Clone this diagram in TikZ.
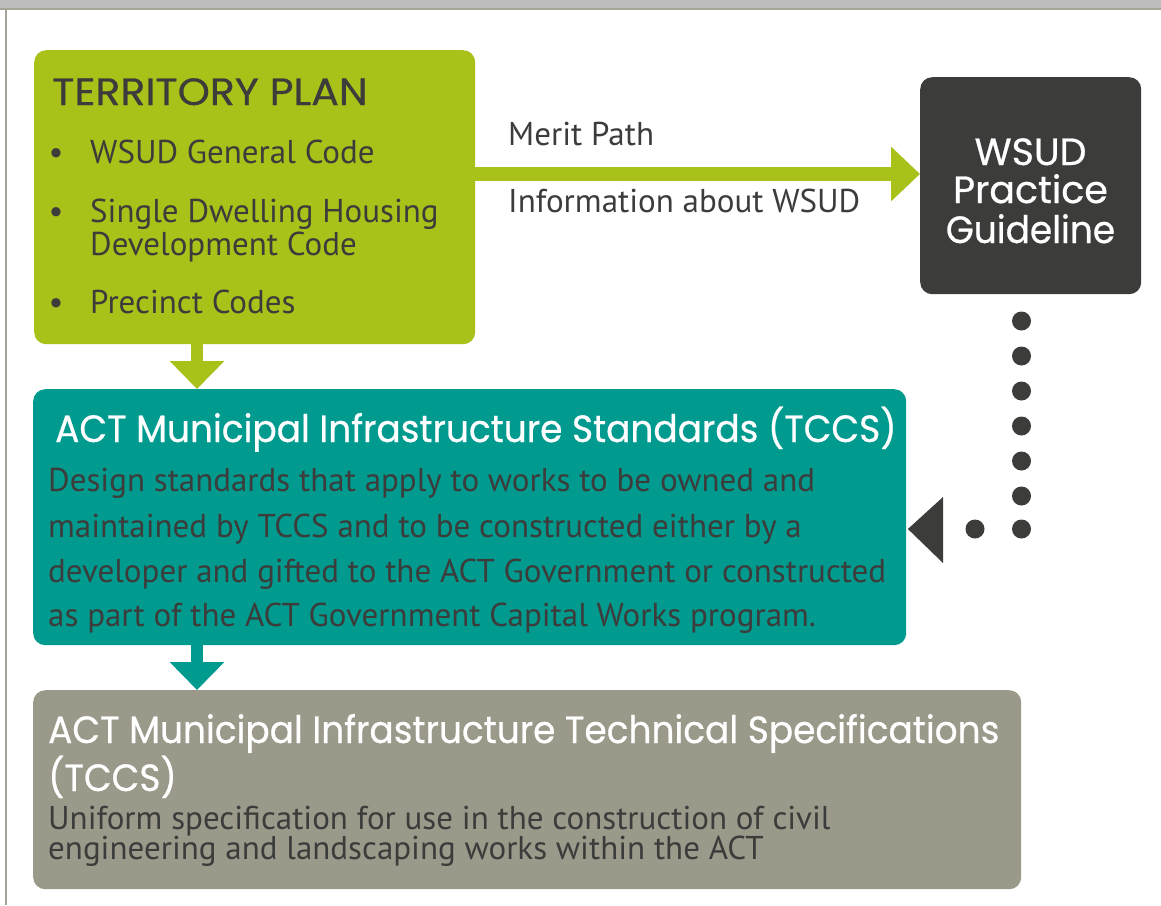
\documentclass[tikz,border=0pt]{standalone}
\usepackage{fontspec}
\setmainfont{PT Sans}
\newfontfamily\headfont[FakeStretch=0.945,FakeBold=0.6]{Poppins}
\newfontfamily\capfont[FakeStretch=1.08,FakeBold=0.6]{Poppins}
\newfontfamily\plainhead[FakeBold=0.6]{Poppins}
\usetikzlibrary{arrows.meta}
\definecolor{tpgreen}{HTML}{A9C119}
\definecolor{tealc}{HTML}{009A8F}
\definecolor{graybox}{HTML}{9B998A}
\definecolor{darkbox}{HTML}{3C3C3B}
\definecolor{darktext}{HTML}{3C3C3B}
\definecolor{topbar}{HTML}{BDBDBD}
\definecolor{borderc}{HTML}{A6A497}
\tikzset{
  box/.style={rounded corners=12pt, inner sep=0pt, draw=none, anchor=north west},
  head/.style={font=\headfont\fontsize{38}{40}\selectfont, inner sep=0pt, anchor=base west},
  body/.style={font=\fontsize{33}{36}\selectfont, text=darktext, inner sep=0pt, anchor=base west},
  garrow/.style={line width=14pt, tpgreen, -{Triangle[width=53pt,length=29pt]}},
  downarrow/.style={line width=12pt, -{Triangle[width=53pt,length=28pt]}},
}
\begin{document}
\begin{tikzpicture}[x=1pt,y=-1pt]
\useasboundingbox (0,0) rectangle (1161,905);
\fill[white] (0,0) rectangle (1161,905);
\fill[topbar] (0,0) rectangle (1161,8);
\fill[borderc] (0,8) rectangle (1161,10);
\fill[borderc] (5,8) rectangle (7,905);

% boxes
\node[box, fill=tpgreen, minimum width=441pt, minimum height=294pt] (tp) at (34,50) {};
\node[box, fill=darkbox, minimum width=221pt, minimum height=217pt] (wsud) at (920,77) {};
\node[box, fill=tealc, minimum width=873pt, minimum height=256pt] (mis) at (33,389) {};
\node[box, fill=graybox, minimum width=988pt, minimum height=199pt] (mits) at (33,690) {};

% territory plan text
\node[head, font=\capfont\fontsize{38}{40}\selectfont, text=darktext] (tpt) at (52,105) {TERRITORY PLAN};
\node[body, anchor=base] (b1) at (56,163) {•};
\node[body] (l1) at (90,163) {WSUD General Code};
\node[body, anchor=base] (b2) at (56,222) {•};
\node[body] (l2) at (90,222) {Single Dwelling Housing};
\node[body] (l3) at (90,255) {Development Code};
\node[body, anchor=base] (b3) at (56,313) {•};
\node[body] (l4) at (90,313) {Precinct Codes};

% WSUD box text
\node[head, font=\plainhead\fontsize{38}{40}\selectfont, text=white, anchor=base] (w1) at (1030.5,165) {WSUD};
\node[head, font=\plainhead\fontsize{38}{40}\selectfont, text=white, anchor=base] (w2) at (1030.5,203) {Practice};
\node[head, text=white, anchor=base] (w3) at (1030.5,243) {Guideline};

% arrow labels
\node[body] (merit) at (508,145) {Merit Path};
\node[body] (info) at (508,212) {Information about WSUD};

% standards
\node[head, text=white] (mist) at (55,442) {ACT Municipal Infrastructure Standards (TCCS)};
\node[body] (m1) at (48,491) {Design standards that apply to works to be owned and};
\node[body] (m2) at (48,537) {maintained by TCCS and to be constructed either by a};
\node[body] (m3) at (48,582) {developer and gifted to the ACT Government or constructed};
\node[body] (m4) at (48,626) {as part of the ACT Government Capital Works program.};

% specifications
\node[head, text=white] (mitst) at (48,743) {ACT Municipal Infrastructure Technical Specifications};
\node[head, text=white] (mitst2) at (48,791) {(TCCS)};
\node[body] (s1) at (48,829) {Uniform specification for use in the construction of civil};
\node[body] (s2) at (48,859) {engineering and landscaping works within the ACT};

% connectors
\coordinate (mid) at (700,174);
\draw[garrow] (tp.east |- mid) -- (wsud.west |- mid);
\coordinate (ax) at (197,0);
\draw[downarrow, tpgreen] (tp.south -| ax) -- (mis.north -| ax);
\draw[downarrow, tealc] (mis.south -| ax) -- (mits.north -| ax);

% dotted connector
\foreach \yy in {321,356,391,426,461,496,529}
  \fill[darkbox] (1021.5,\yy) circle[radius=9.5pt];
\fill[darkbox] (975,529) circle[radius=9.5pt];
\coordinate (corner) at (1021.5,529);
\coordinate (tip) at (mis.east |- corner);
\fill[darkbox] ([xshift=1.5pt]tip) -- (943,497) -- (943,563) -- cycle;
\end{tikzpicture}
\end{document}
